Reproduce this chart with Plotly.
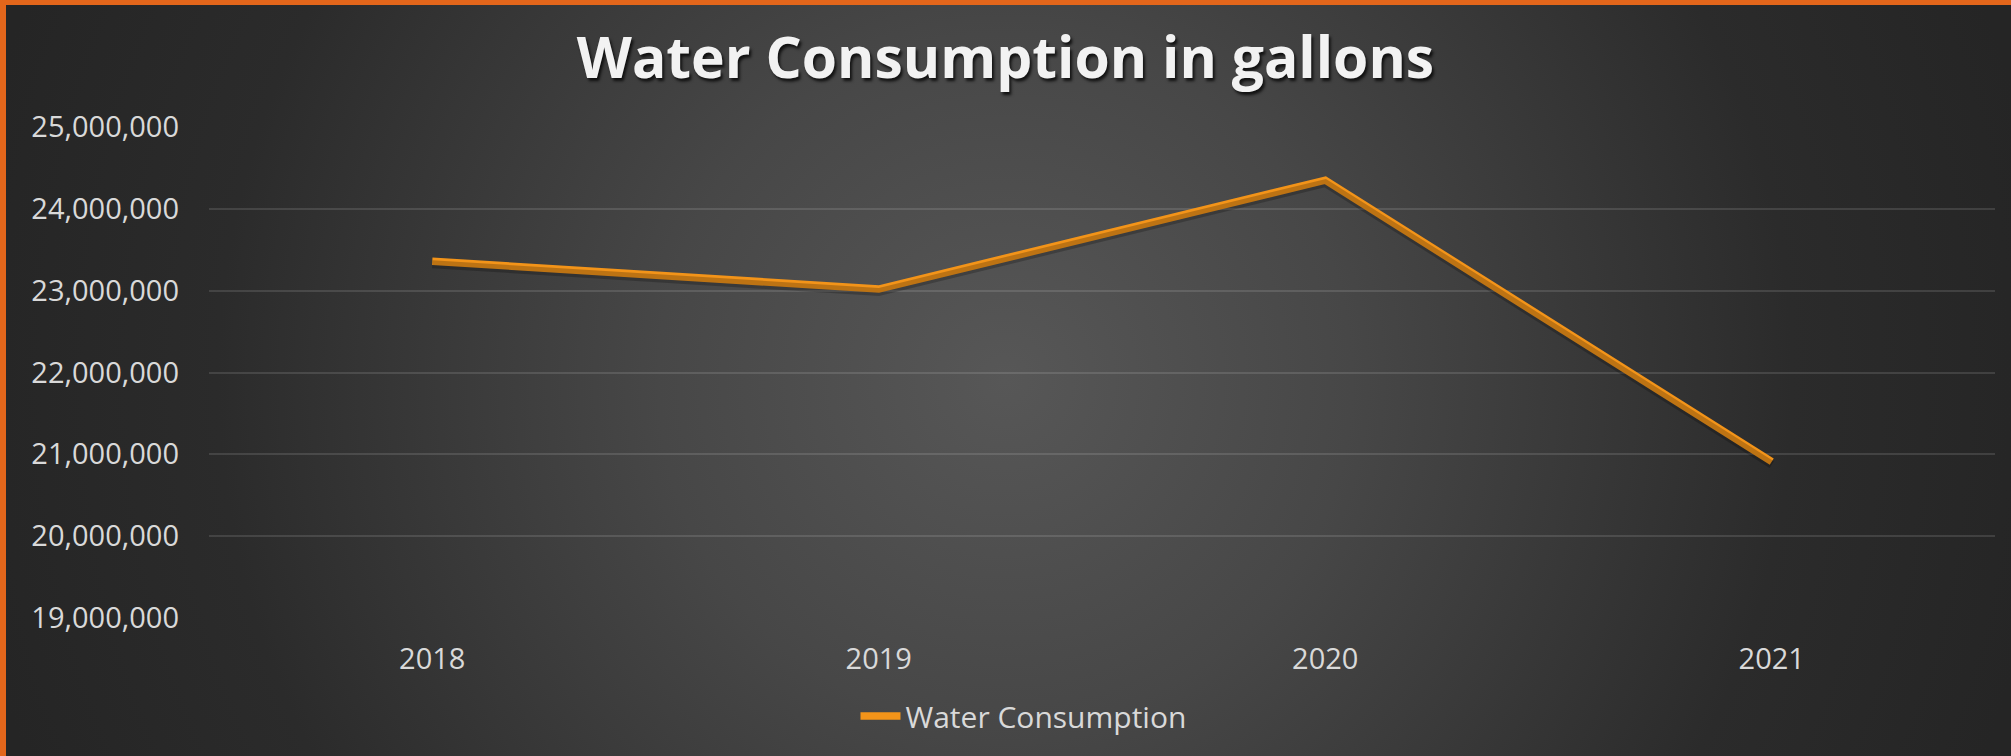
import base64
import plotly.graph_objects as go

# ---- data ----
years = ["2018", "2019", "2020", "2021"]
consumption = [23360000, 23020000, 24350000, 20910000]
series_name = "Water Consumption"
title_text = "Water Consumption in gallons"
y_range = [19000000, 25000000]

W, H = 2011, 756
L, R, T, B = 209, 16, 127, 138
plot_w = W - L - R
plot_h = H - T - B

# background: radial gradient + orange frame (style only)
svg = (
    f'<svg xmlns="http://www.w3.org/2000/svg" width="{W}" height="{H}" viewBox="0 0 {W} {H}">'
    '<defs><radialGradient id="g" gradientUnits="userSpaceOnUse" cx="1005" cy="380" r="1050">'
    '<stop offset="0" stop-color="#575757"/>'
    '<stop offset="0.33" stop-color="#474747"/>'
    '<stop offset="0.75" stop-color="#2b2b2b"/>'
    '<stop offset="1" stop-color="#252525"/>'
    '</radialGradient></defs>'
    f'<rect width="{W}" height="{H}" fill="url(#g)"/>'
    f'<rect x="0" y="0" width="{W}" height="5" fill="#e3661b"/>'
    f'<rect x="0" y="0" width="6" height="{H}" fill="#e3661b"/>'
    '</svg>'
)
bg_src = "data:image/svg+xml;base64," + base64.b64encode(svg.encode()).decode()

# shadow offset (~3px) expressed in data units through a shifted overlay axis
px_per_unit = plot_h / (y_range[1] - y_range[0])
shift = 3 / px_per_unit

fig = go.Figure()
fig.add_trace(go.Scatter(
    x=years, y=consumption, mode="lines", yaxis="y2",
    line=dict(color="rgba(0,0,0,0.22)", width=8),
    showlegend=False, hoverinfo="skip",
))
fig.add_trace(go.Scatter(
    x=years, y=consumption, mode="lines", name=series_name,
    line=dict(color="#f39419", width=7.5),
))

font_family = "Open Sans"
fig.update_layout(
    width=W, height=H,
    margin=dict(l=L, r=R, t=T, b=B, autoexpand=False),
    paper_bgcolor="#2a2a2a",
    plot_bgcolor="rgba(0,0,0,0)",
    images=[dict(
        source=bg_src, xref="paper", yref="paper",
        x=-L / plot_w, y=1 + T / plot_h,
        sizex=W / plot_w, sizey=H / plot_h,
        xanchor="left", yanchor="top", sizing="stretch", layer="below",
    )],
    title=dict(
        text=title_text, x=0.5, xref="container", xanchor="center",
        y=1 - 58 / H, yref="container", yanchor="middle",
        font=dict(family=font_family, size=57, color="#f2f2f2", weight="bold",
                  shadow="2px 3px 3px rgba(0,0,0,0.75)"),
    ),
    xaxis=dict(
        type="category", range=[-0.5, len(years) - 0.5], automargin=False,
        showgrid=False, zeroline=False, showline=False,
        ticks="", ticklabelstandoff=21,
        tickfont=dict(family=font_family, size=29, color="#d9d9d9"),
    ),
    yaxis=dict(
        range=y_range, dtick=1000000, tickformat=",d", automargin=False,
        showgrid=True, gridcolor="rgba(255,255,255,0.12)", gridwidth=1.5,
        zeroline=False, showline=False, ticks="", ticklabelstandoff=29,
        tickfont=dict(family=font_family, size=29, color="#d9d9d9"),
    ),
    yaxis2=dict(
        range=[y_range[0] + shift, y_range[1] + shift], overlaying="y",
        visible=False, showgrid=False, automargin=False,
    ),
    showlegend=True,
    legend=dict(
        orientation="h", xref="container", yref="container",
        x=0.5 + 18 / W, xanchor="center", y=1 - 716 / H, yanchor="middle",
        font=dict(family=font_family, size=30, color="#d9d9d9"),
        bgcolor="rgba(0,0,0,0)", itemwidth=40,
    ),
)

fig.write_html(
    "out.html",
    config={"displayModeBar": False},
    post_script="document.body.style.margin='0';document.body.style.padding='0';"
                "document.body.style.overflow='hidden';",
)
